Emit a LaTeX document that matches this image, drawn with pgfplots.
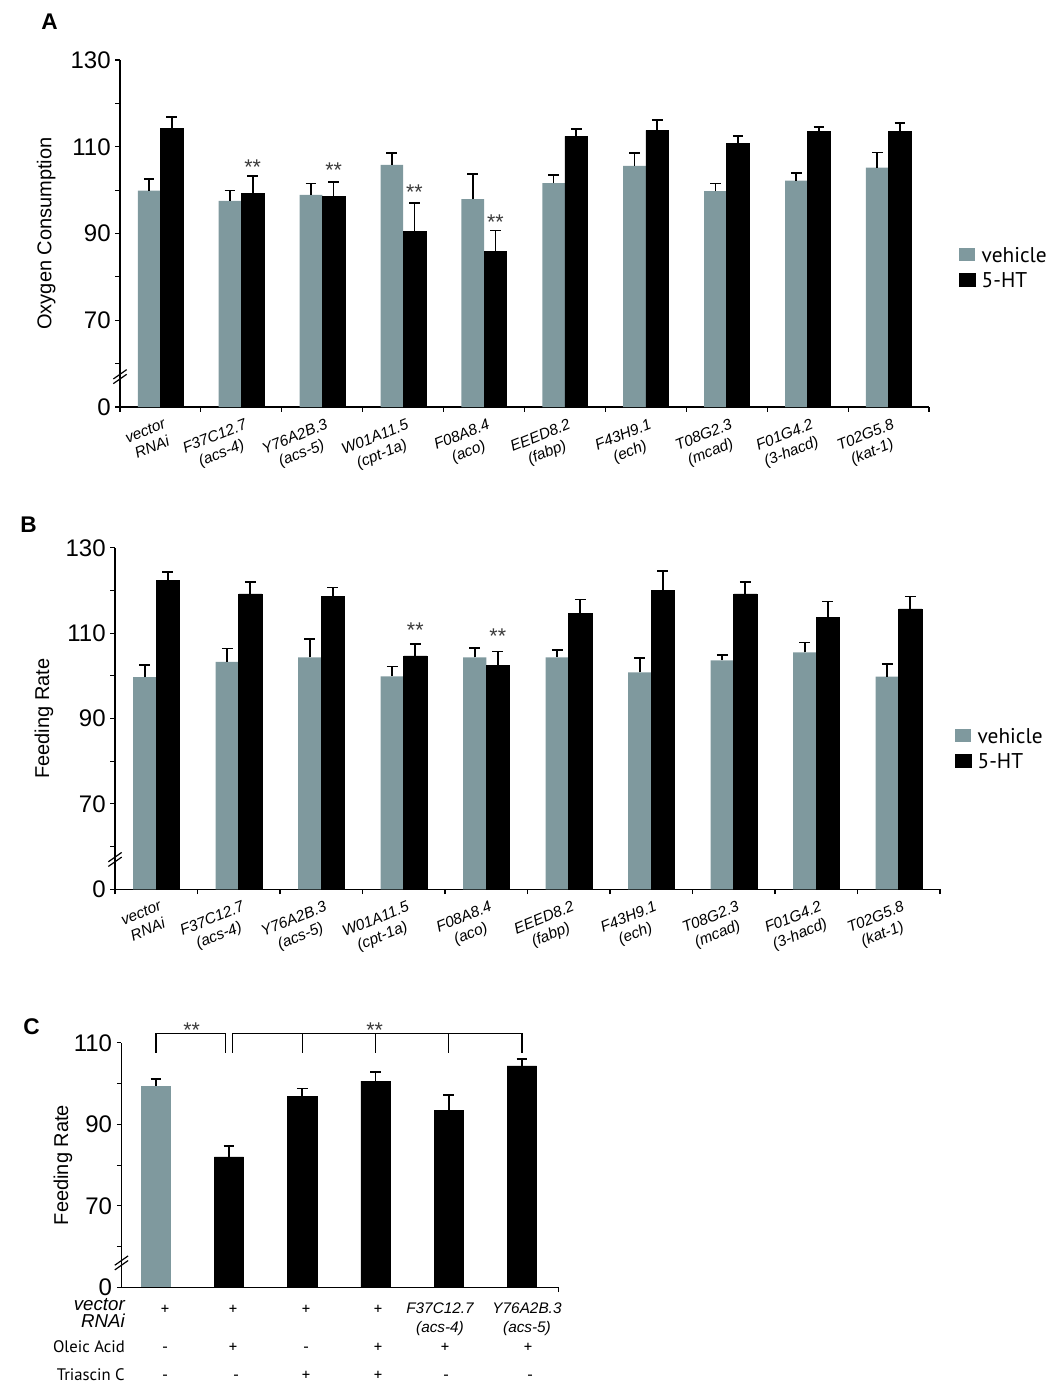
\documentclass[border=0pt]{standalone}
\usepackage{fontspec}
\setmainfont{Liberation Sans}
\newfontfamily\myr{PT Sans}
\usepackage{pgfplots}
\pgfplotsset{compat=1.18}
\definecolor{veh}{HTML}{7F999E}
\definecolor{star}{HTML}{3A3A3A}

% 1 px of the reference = 0.75pt
\pgfplotsset{
  base/.style={
    scale only axis, anchor=south west,
    axis x line*=bottom, axis y line*=left,
    axis line style={line width=0.9pt,-},
    every tick/.style={black, line width=0.8pt},
    tick align=outside, major tick length=3.5pt,
    yticklabel style={font=\fontsize{18}{18}\selectfont},
    ylabel style={font=\fontsize{15}{15}\selectfont, anchor=south},
    clip mode=individual,
    /pgf/number format/assume math mode=true,
    ybar=0pt,
    error bars/y dir=plus, error bars/y explicit,
    error bars/error bar style={black, line width=1.3pt},
    error bars/error mark options={black, line width=1.3pt, mark size=4pt, rotate=90},
  },
  genes/.style={
    base,
    ymin=50, ymax=130, ytick={50,60,...,130}, yticklabels={0,,70,,90,,110,,130},
    xmin=-0.5, xmax=9.5, bar width=0.28,
    xtick={-0.5,0.5,...,9.5}, xticklabels={},
    extra x ticks={0,...,9},
    extra x tick labels={{vector\\RNAi},{F37C12.7\\(acs-4)},{Y76A2B.3\\(acs-5)},{W01A11.5\\(cpt-1a)},{F08A8.4\\(aco)},{EEED8.2\\(fabp)},{F43H9.1\\(ech)},{T08G2.3\\(mcad)},{F01G4.2\\(3-hacd)},{T02G5.8\\(kat-1)}},
    extra x tick style={major tick length=0pt,
      xticklabel style={rotate=22, anchor=north east, align=center,
        font=\fontsize{11.5}{13.5}\selectfont\itshape, xshift=2pt, yshift=-5pt}},
    legend cell align=left,
    legend image code/.code={\fill[##1] (0pt,-3pt) rectangle (12pt,7pt);},
    legend style={draw=none, fill=none, inner sep=0pt,
      font=\myr\fontsize{16}{18}\selectfont,
      /tikz/every odd column/.append style={column sep=3pt},
      nodes={inner sep=1.5pt, text height=12pt, text depth=4pt}},
  },
}
\tikzset{
  stars/.style={font=\fontsize{16}{16}\selectfont, text=star, anchor=base, yshift=-9pt},
  brk/.style={line width=0.9pt},
}

\begin{document}
\begin{tikzpicture}
\useasboundingbox (0pt,0pt) rectangle (787.5pt,-1041pt);

% ---------- A ----------
\begin{axis}[genes, at={(90pt,-305.25pt)}, width=606.75pt, height=260.25pt,
  ylabel={Oxygen Consumption},
  ylabel style={at={(axis description cs:-0.074,0.5)}},
  legend style={at={(1.037,0.396)}, anchor=west}]
\addplot[fill=veh, draw=none] coordinates {
  (0,99.9) +- (0,2.7) (1,97.5) +- (0,2.4) (2,98.9) +- (0,2.6) (3,105.8) +- (0,2.7)
  (4,97.9) +- (0,5.8) (5,101.6) +- (0,1.9) (6,105.6) +- (0,2.9) (7,99.8) +- (0,1.7)
  (8,102.2) +- (0,1.8) (9,105.2) +- (0,3.5)};
\addplot[fill=black, draw=black] coordinates {
  (0,114.3) +- (0,2.6) (1,99.2) +- (0,4.0) (2,98.5) +- (0,3.4) (3,90.5) +- (0,6.6)
  (4,85.8) +- (0,4.9) (5,112.4) +- (0,1.7) (6,113.8) +- (0,2.4) (7,110.8) +- (0,1.6)
  (8,113.5) +- (0,1.1) (9,113.5) +- (0,2.0)};
\legend{vehicle,5-HT}
\node[stars] at (axis cs:1.14,106.3) {**};
\node[stars] at (axis cs:2.14,105.7) {**};
\node[stars] at (axis cs:3.14,100.5) {**};
\node[stars] at (axis cs:4.14,93.8) {**};
\draw[brk] ([xshift=-5pt,yshift=-5.25pt]axis cs:-0.5,57) -- ++(10pt,7pt);
\draw[brk] ([xshift=-5pt,yshift=-1.75pt]axis cs:-0.5,57) -- ++(10pt,7pt);
\end{axis}

% ---------- B ----------
\begin{axis}[genes, at={(86.25pt,-667pt)}, width=618.75pt, height=256.2pt,
  ylabel={Feeding Rate},
  ylabel style={at={(axis description cs:-0.069,0.5)}},
  legend style={at={(1.018,0.406)}, anchor=west}]
\addplot[fill=veh, draw=none] coordinates {
  (0,99.7) +- (0,2.8) (1,103.3) +- (0,3.1) (2,104.3) +- (0,4.3) (3,99.9) +- (0,2.3)
  (4,104.3) +- (0,2.3) (5,104.3) +- (0,1.8) (6,100.8) +- (0,3.3) (7,103.6) +- (0,1.2)
  (8,105.5) +- (0,2.3) (9,99.8) +- (0,3.0)};
\addplot[fill=black, draw=black] coordinates {
  (0,122.3) +- (0,2.1) (1,119.2) +- (0,2.8) (2,118.7) +- (0,2.0) (3,104.7) +- (0,2.7)
  (4,102.4) +- (0,3.3) (5,114.6) +- (0,3.3) (6,120.1) +- (0,4.4) (7,119.2) +- (0,2.8)
  (8,113.7) +- (0,3.7) (9,115.7) +- (0,2.9)};
\legend{vehicle,5-HT}
\node[stars] at (axis cs:3.14,111.75) {**};
\node[stars] at (axis cs:4.14,110.4) {**};
\draw[brk] ([xshift=-5pt,yshift=-5.25pt]axis cs:-0.5,57) -- ++(10pt,7pt);
\draw[brk] ([xshift=-5pt,yshift=-1.75pt]axis cs:-0.5,57) -- ++(10pt,7pt);
\end{axis}

% ---------- C ----------
\begin{axis}[base, at={(91.1pt,-965.5pt)}, width=327.75pt, height=183.45pt,
  ymin=50, ymax=110, ytick={50,60,...,110}, yticklabels={0,,70,,90,,110},
  xmin=-0.47, xmax=5.5, xtick={5.5}, xticklabels={}, bar width=0.4,
  ylabel={Feeding Rate},
  ylabel style={at={(axis description cs:-0.102,0.5)}}]
\addplot[fill=veh, draw=none, bar shift=0pt] coordinates {(0,99.4) +- (0,1.7)};
\addplot[fill=black, draw=black, bar shift=0pt] coordinates {
  (1,82.0) +- (0,2.6) (2,96.8) +- (0,2.0) (3,100.6) +- (0,2.3)
  (4,93.4) +- (0,3.8) (5,104.3) +- (0,1.7)};
\draw[line width=1.1pt] (axis cs:0,107.6) |- (axis cs:0.95,112.3) -- (axis cs:0.95,107.6);
\draw[line width=1.1pt] (axis cs:1.05,107.6) |- (axis cs:5,112.3) -- (axis cs:5,107.6);
\draw[line width=1.1pt] (axis cs:2,112.3) -- (axis cs:2,107.6);
\draw[line width=1.1pt] (axis cs:3,112.3) -- (axis cs:3,107.6);
\draw[line width=1.1pt] (axis cs:4,112.3) -- (axis cs:4,107.6);
\node[stars] at (axis cs:0.49,114.2) {**};
\node[stars] at (axis cs:2.99,114.2) {**};
\draw[brk] ([xshift=-5pt,yshift=-5.25pt]axis cs:-0.47,56) -- ++(10pt,7pt);
\draw[brk] ([xshift=-5pt,yshift=-1.75pt]axis cs:-0.47,56) -- ++(10pt,7pt);
\end{axis}

% ---------- panel letters and treatment table ----------
\begin{scope}[x=0.75pt, y=-0.75pt]
\node[anchor=base west, inner sep=0pt, font=\bfseries\fontsize{17}{17}\selectfont] at (41,30) {A};
\node[anchor=base west, inner sep=0pt, font=\bfseries\fontsize{17}{17}\selectfont] at (20,532) {B};
\node[anchor=base west, inner sep=0pt, font=\bfseries\fontsize{17}{17}\selectfont] at (23,1034) {C};

\node[anchor=mid east, inner sep=0pt, font=\itshape\fontsize{14}{14}\selectfont] at (125,1307) {vector};
\node[anchor=mid east, inner sep=0pt, font=\itshape\fontsize{14}{14}\selectfont] at (125,1324) {RNAi};
\node[anchor=mid east, inner sep=0pt, font=\myr\fontsize{12.5}{12.5}\selectfont] at (125,1349) {Oleic Acid};
\node[anchor=mid east, inner sep=0pt, font=\myr\fontsize{12.5}{12.5}\selectfont] at (125,1377) {Triascin C};

\foreach \x in {165,233,306,378}
  \node[anchor=mid, inner sep=0pt, font=\myr\fontsize{12.5}{12.5}\selectfont] at (\x,1311) {+};
\node[anchor=mid, inner sep=0pt, font=\itshape\fontsize{11.5}{11.5}\selectfont] at (440,1310) {F37C12.7};
\node[anchor=mid, inner sep=0pt, font=\itshape\fontsize{11.5}{11.5}\selectfont] at (440,1329) {(acs-4)};
\node[anchor=mid, inner sep=0pt, font=\itshape\fontsize{11.5}{11.5}\selectfont] at (527,1310) {Y76A2B.3};
\node[anchor=mid, inner sep=0pt, font=\itshape\fontsize{11.5}{11.5}\selectfont] at (527,1329) {(acs-5)};

\foreach \x/\s in {165/-,233/+,306/-,378/+,445/+,528/+}
  \node[anchor=mid, inner sep=0pt, font=\myr\fontsize{12.5}{12.5}\selectfont] at (\x,1349) {\s};
\foreach \x/\s in {165/-,236/-,306/+,378/+,446/-,530/-}
  \node[anchor=mid, inner sep=0pt, font=\myr\fontsize{12.5}{12.5}\selectfont] at (\x,1377) {\s};
\end{scope}
\end{tikzpicture}
\end{document}
